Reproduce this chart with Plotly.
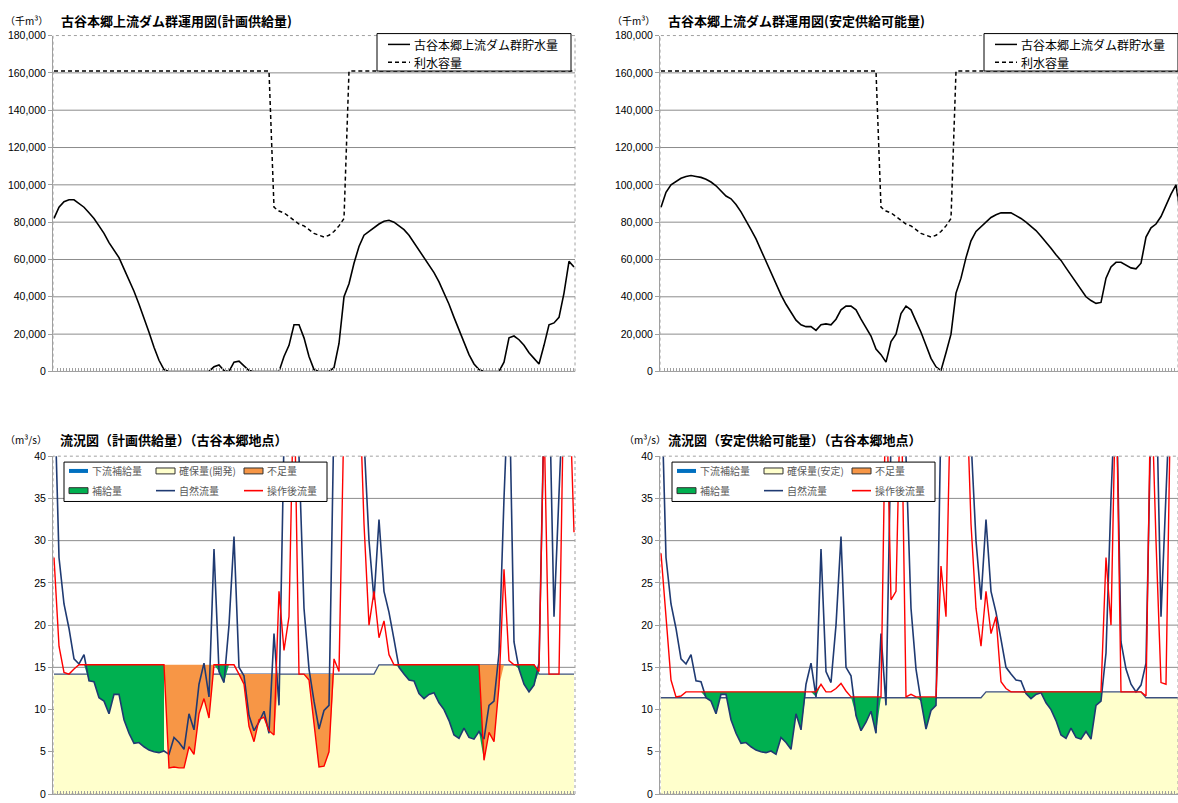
import plotly.graph_objects as go

W, H = 1178, 803

# ---------------- data (index = time step) ----------------
storage_plan = [82000, 88000, 91000, 92000, 92000, 90000, 88000, 85000, 82000, 78000,
                74000, 69000, 65000, 61000, 55000, 49000, 43000, 36000, 29000, 21000,
                13000, 6000, 1000, 0, 0, 0, 0, 0, 0, 0,
                0, 0, 2500, 3500, 500, 0, 5000, 5500, 3000, 500,
                0, 0, 0, 0, 0, 0, 8000, 14000, 25000, 25000,
                18000, 8000, 1000, 0, 0, 0, 2000, 15000, 40000, 47000,
                58000, 67000, 73000, 75000, 77000, 79000, 80500, 81000, 80000, 78000,
                76000, 73000, 69000, 65000, 61000, 57000, 53000, 48000, 42000, 36000,
                29000, 22000, 15000, 9000, 4000, 1000, 0, 0, 0, 0,
                5000, 18000, 19000, 17000, 14000, 10000, 7000, 4000, 14000, 25000,
                26000, 29000, 42000, 59000, 56000]

storage_stable = [88000, 96000, 100000, 102000, 103500, 104500, 105000, 104500, 104000, 103000,
                  101500, 99500, 96500, 94000, 92500, 89500, 85500, 81000, 76000, 71000,
                  65000, 59000, 53000, 46500, 41000, 36000, 31500, 27500, 25000, 24000,
                  24000, 22000, 25000, 25500, 25000, 28000, 33000, 35000, 35000, 33000,
                  28000, 23500, 19000, 12000, 9000, 5000, 16000, 20000, 31000, 35000,
                  33000, 27000, 21000, 14000, 7000, 2500, 500, 10000, 20000, 42000,
                  50000, 61000, 70000, 75000, 77500, 80000, 82500, 84000, 85000, 85000,
                  85000, 83500, 82000, 80000, 78000, 75500, 72500, 69500, 66000, 62500,
                  59500, 55500, 51500, 47500, 44000, 40000, 38000, 36500, 37000, 50000,
                  56000, 58500, 58500, 57000, 55500, 55000, 58000, 72000, 77000, 79000,
                  83000, 89000, 95000, 100000, 82000]

capacity = ([161000] * 44 +
            [88000, 86000, 85000, 83000, 81000, 79000, 78000, 76000, 74000, 73000,
             72000, 73000, 75000, 78000, 82000] +
            [161000] * 46)

natural_flow = [50, 28, 22.5, 19.6, 16, 15.4, 16.5, 13.4, 13.3, 11.4,
                11.0, 9.5, 11.8, 11.8, 8.8, 7.2, 6.0, 6.1, 5.6, 5.2,
                5.0, 4.9, 5.1, 4.7, 6.7, 6.1, 5.3, 9.5, 7.6, 13.0,
                15.5, 11.5, 29, 14.5, 13.2, 20, 30.5, 15, 14, 9.3,
                7.5, 8.5, 9.8, 7.2, 19, 10.5, 42, 50, 50, 40,
                22, 14.8, 11, 7.7, 9.9, 10.5, 45, 50, 50, 50,
                50, 50, 42, 30, 23, 32.5, 24, 21.5, 18.3, 15.0,
                14.2, 13.5, 13.4, 11.9, 11.3, 11.8, 12.0, 10.8, 10.0, 8.7,
                7.0, 6.6, 7.8, 6.7, 6.5, 7.4, 6.5, 10.5, 11.0, 16.7,
                35, 50, 18, 14.8, 13.0, 12.1, 12.9, 15.5, 45, 50,
                21, 35, 50, 50, 50]

flow_after_plan = [28, 17.5, 14.4, 14.2, 14.8, 15.3, 15.3, 15.3, 15.3, 15.3,
                   15.3, 15.3, 15.3, 15.3, 15.3, 15.3, 15.3, 15.3, 15.3, 15.3,
                   15.3, 15.3, 15.3, 3.1, 3.2, 3.1, 3.1, 5.6, 4.7, 9.5,
                   11.3, 9.0, 15.3, 15.3, 15.3, 15.3, 15.3, 14.2, 13.0, 8.0,
                   6.2, 8.8, 9.1, 7.5, 7.0, 24, 17, 21, 50, 14.2,
                   14.2, 13.5, 8.0, 3.2, 3.3, 5.0, 16, 14.5, 45, 50,
                   50, 50, 32, 20, 24, 18.5, 20.5, 16.5, 15.3, 15.3,
                   15.3, 15.3, 15.3, 15.3, 15.3, 15.3, 15.3, 15.3, 15.3, 15.3,
                   15.3, 15.3, 15.3, 15.3, 15.3, 15.3, 4.0, 7.3, 6.2, 12.8,
                   26.6, 15.8, 15.3, 15.3, 15.3, 15.3, 15.3, 14.5, 45, 14.2,
                   14.2, 14.2, 50, 50, 31]

flow_after_stable = [28.5, 21, 13.5, 11.5, 11.6, 12.1, 12.1, 12.1, 12.1, 12.1,
                     12.1, 12.1, 12.1, 12.1, 12.1, 12.1, 12.1, 12.1, 12.1, 12.1,
                     12.1, 12.1, 12.1, 12.1, 12.1, 12.1, 12.1, 12.1, 12.1, 12.1,
                     12.1, 12.1, 13.0, 12.1, 12.1, 12.5, 13.1, 12.2, 11.5, 11.5,
                     11.5, 11.5, 11.5, 11.5, 11.5, 50, 23, 24, 50, 11.5,
                     11.8, 11.5, 11.5, 11.5, 11.5, 11.5, 27, 21, 50, 50,
                     50, 50, 32, 22, 17.5, 24, 19, 21, 13.3, 12.5,
                     12.1, 12.1, 12.1, 12.1, 12.1, 12.1, 12.1, 12.1, 12.1, 12.1,
                     12.1, 12.1, 12.1, 12.1, 12.1, 12.1, 12.1, 12.1, 12.1, 28,
                     20, 50, 12.1, 12.1, 12.1, 12.1, 12.1, 11.6, 50, 30,
                     13.2, 13.0, 50, 50, 50]

secured_plan = [14.2] * 65 + [15.3] * 32 + [14.2] * 8
secured_stable = [11.4] * 65 + [12.1] * 32 + [11.4] * 8

# supply (補給) periods and shortage (不足) periods: (start, end, target)
supply_plan = [(4, 22), (32, 38), (68, 86), (92, 97)]
shortage_plan = [(22, 32, 15.3), (37, 45, 14.2), (49, 56, 14.2), (85, 90, 15.3)]
supply_stable = [(4, 32), (37, 44), (50, 57), (70, 88)]

N = len(natural_flow)
for arr in (storage_plan, storage_stable, capacity, flow_after_plan, flow_after_stable,
            secured_plan, secured_stable):
    assert len(arr) == N, len(arr)
idx = list(range(N))

# ---------------- helpers ----------------
def X(px):
    return px / W

def Y(py):
    return 1 - py / H

C_NAT = "#1F3A72"
C_RED = "#FF0000"
C_YEL = "#FFFFCC"
C_GRN = "#00B050"
C_ORG = "#F79646"
C_BLU = "#0070C0"
GRID = "#8C8C8C"
JP = "Noto Sans CJK JP, sans-serif"
NUM = "Liberation Sans, Arial, sans-serif"

fig = go.Figure()

# ---------------- top panels ----------------
for storage, xa, ya in ((storage_plan, "x", "y"), (storage_stable, "x2", "y2")):
    fig.add_trace(go.Scatter(x=idx, y=capacity, mode="lines", name="利水容量",
                             line=dict(color="black", width=1.5, dash="4px,3px"),
                             xaxis=xa, yaxis=ya, showlegend=False, hoverinfo="skip"))
    fig.add_trace(go.Scatter(x=idx, y=storage, mode="lines", name="古谷本郷上流ダム群貯水量",
                             line=dict(color="black", width=1.6),
                             xaxis=xa, yaxis=ya, showlegend=False, hoverinfo="skip"))

# ---------------- bottom panels ----------------
def band_trace(a, b, top, bot, color, xa, ya, name):
    xs = list(range(a, b + 1))
    xx = xs + xs[::-1]
    yy = [top[i] for i in xs] + [bot[i] for i in xs[::-1]]
    return go.Scatter(x=xx, y=yy, mode="lines", fill="toself", fillcolor=color,
                      line=dict(width=0, color=color), xaxis=xa, yaxis=ya,
                      showlegend=False, hoverinfo="skip", name=name)

for secured, after, supply, shortage, xa, ya in (
        (secured_plan, flow_after_plan, supply_plan, shortage_plan, "x3", "y3"),
        (secured_stable, flow_after_stable, supply_stable, [], "x4", "y4")):
    fig.add_trace(go.Scatter(x=idx, y=secured, mode="lines", fill="tozeroy", fillcolor=C_YEL,
                             line=dict(color="#3C5080", width=1.3), xaxis=xa, yaxis=ya,
                             showlegend=False, hoverinfo="skip", name="確保量"))
    bot_g = [min(n, r) for n, r in zip(natural_flow, after)]
    for a, b in supply:
        fig.add_trace(band_trace(a, b, after, bot_g, C_GRN, xa, ya, "補給量"))
    for a, b, t in shortage:
        topv = [t] * N
        botv = [min(r, t) for r in after]
        fig.add_trace(band_trace(a, b, topv, botv, C_ORG, xa, ya, "不足量"))
    fig.add_trace(go.Scatter(x=idx, y=natural_flow, mode="lines", name="自然流量",
                             line=dict(color=C_NAT, width=1.6), xaxis=xa, yaxis=ya,
                             showlegend=False, hoverinfo="skip"))
    fig.add_trace(go.Scatter(x=idx, y=after, mode="lines", name="操作後流量",
                             line=dict(color=C_RED, width=1.4), xaxis=xa, yaxis=ya,
                             showlegend=False, hoverinfo="skip"))

# ---------------- axes ----------------
xcommon = dict(showgrid=False, zeroline=False, showticklabels=False, ticks="inside",
               ticklen=3, tickcolor="#A0A0A0", tick0=0, dtick=0.6, showline=True,
               linecolor="#A0A0A0", linewidth=1)
ycommon = dict(showgrid=False, zeroline=False, ticks="outside", ticklen=4,
               tickcolor="#A0A0A0", showline=True, linecolor="#A0A0A0", linewidth=1,
               tickfont=dict(family=NUM, size=10.5, color="black"))

top_dom = [Y(371), Y(30)]
bot_dom = [Y(800), Y(457)]
left_dom = [X(53), X(575)]
right_dom = [X(660), 1.0]
xr_left = [-0.2, 104.2]
xr_right = [-0.2, -0.2 + (W - 660) / 5.0]

fig.update_layout(
    xaxis=dict(domain=left_dom, range=xr_left, anchor="y", **xcommon),
    yaxis=dict(domain=top_dom, range=[0, 180000], anchor="x",
               tickvals=list(range(0, 180001, 20000)), tickformat=",d", **ycommon),
    xaxis2=dict(domain=right_dom, range=xr_right, anchor="y2", **xcommon),
    yaxis2=dict(domain=top_dom, range=[0, 180000], anchor="x2",
                tickvals=list(range(0, 180001, 20000)), tickformat=",d", **ycommon),
    xaxis3=dict(domain=left_dom, range=xr_left, anchor="y3", **xcommon),
    yaxis3=dict(domain=bot_dom, range=[0, 40], anchor="x3",
                tickvals=list(range(0, 41, 5)), **ycommon),
    xaxis4=dict(domain=right_dom, range=xr_right, anchor="y4", **xcommon),
    yaxis4=dict(domain=bot_dom, range=[0, 40], anchor="x4",
                tickvals=list(range(0, 41, 5)), **ycommon),
)

shapes = []
# gridlines
for xa, ya, vals in (("x", "y", range(20000, 180000, 20000)),
                     ("x2", "y2", range(20000, 180000, 20000)),
                     ("x3", "y3", range(5, 40, 5)),
                     ("x4", "y4", range(5, 40, 5))):
    for v in vals:
        shapes.append(dict(type="line", xref=f"{xa} domain", yref=ya, x0=0, x1=1, y0=v, y1=v,
                           line=dict(color=GRID, width=1), layer="below"))
# dotted frames
for xa, ya in (("x", "y"), ("x2", "y2"), ("x3", "y3"), ("x4", "y4")):
    shapes.append(dict(type="rect", xref=f"{xa} domain", yref=f"{ya} domain",
                       x0=0, x1=1, y0=0, y1=1,
                       line=dict(color="#A0A0A0", width=1, dash="dot"), layer="above"))

annotations = []

def txt(px, py, s, size, color="black", bold=False, family=JP):
    annotations.append(dict(xref="paper", yref="paper", x=X(px), y=Y(py),
                            text=f"<b>{s}</b>" if bold else s, showarrow=False,
                            xanchor="left", yanchor="middle",
                            font=dict(family=family, size=size, color=color)))

def hline(x0, x1, py, color, width, dash=None):
    ln = dict(color=color, width=width)
    if dash:
        ln["dash"] = dash
    shapes.append(dict(type="line", xref="paper", yref="paper", x0=X(x0), x1=X(x1),
                       y0=Y(py), y1=Y(py), line=ln, layer="above"))

def box(x0, x1, y0, y1, fill, line_color="black", lw=1):
    shapes.append(dict(type="rect", xref="paper", yref="paper", x0=X(x0), x1=X(x1),
                       y0=Y(y1), y1=Y(y0), fillcolor=fill,
                       line=dict(color=line_color, width=lw), layer="above"))

# titles
txt(3, 15, "（千m³）", 10)
txt(59, 15, "古谷本郷上流ダム群運用図(計画供給量)", 13, bold=True)
txt(610, 15, "（千m³）", 10)
txt(666, 15, "古谷本郷上流ダム群運用図(安定供給可能量)", 13, bold=True)
txt(3, 440, "（m³/s）", 10)
txt(58, 440, "流況図（計画供給量）（古谷本郷地点）", 13, bold=True)
txt(622, 440, "（m³/s）", 10)
txt(666, 440, "流況図（安定供給可能量）（古谷本郷地点）", 13, bold=True)

# top legends
for off in (0, 607):
    box(377 + off, 571 + off, 28, 66, "white")
    hline(388 + off, 410 + off, 39, "black", 1.5)
    txt(412 + off, 39, "古谷本郷上流ダム群貯水量", 12)
    hline(388 + off, 410 + off, 57, "black", 1.5, dash="4px,3px")
    txt(412 + off, 57, "利水容量", 12)

# bottom legends
for bx, secured_label in ((64, "確保量(開発)"), (672, "確保量(安定)")):
    box(bx, bx + 263, 463, 503, "white")
    r1, r2 = 472, 492
    c1, c2, c3 = bx + 5, bx + 92, bx + 180
    hline(c1, c1 + 19, r1, C_BLU, 4)
    txt(c1 + 21, r1, "下流補給量", 10, color="#595959")
    box(c2, c2 + 19, r1 - 3, r1 + 3, C_YEL, "#303030", 1)
    txt(c2 + 21, r1, secured_label, 10, color="#595959")
    box(c3, c3 + 19, r1 - 3, r1 + 3, C_ORG, "#303030", 1)
    txt(c3 + 21, r1, "不足量", 10, color="#595959")
    box(c1, c1 + 19, r2 - 3, r2 + 3, C_GRN, "#303030", 1)
    txt(c1 + 21, r2, "補給量", 10, color="#595959")
    hline(c2, c2 + 19, r2, C_NAT, 1.6)
    txt(c2 + 21, r2, "自然流量", 10, color="#595959")
    hline(c3, c3 + 19, r2, C_RED, 1.6)
    txt(c3 + 21, r2, "操作後流量", 10, color="#595959")

fig.update_layout(width=W, height=H, margin=dict(l=0, r=0, t=0, b=0),
                  paper_bgcolor="white", plot_bgcolor="white", showlegend=False,
                  hovermode=False, shapes=shapes, annotations=annotations)

fig.write_html("out.html", config={"displayModeBar": False, "staticPlot": True},
               post_script="document.body.style.margin='0px';document.body.style.padding='0px';")
